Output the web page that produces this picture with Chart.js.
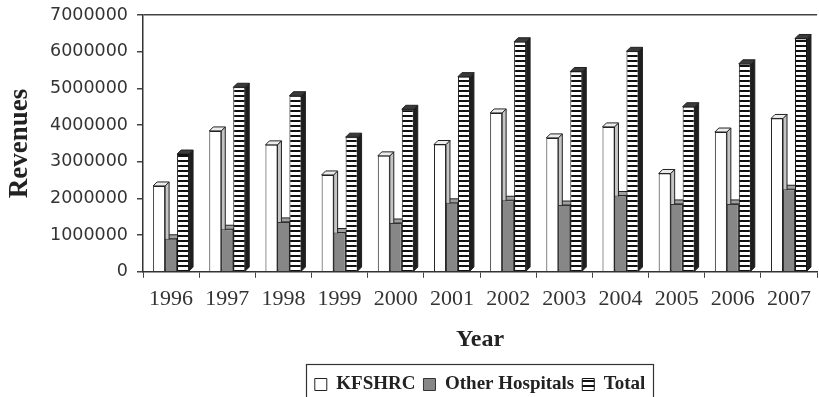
<!DOCTYPE html>
<html>
<head>
<meta charset="utf-8">
<script src="https://cdn.jsdelivr.net/npm/chart.js@4/dist/chart.umd.min.js"></script>
<style>
body{margin:0;background:#fff;}
</style>
</head>
<body>
<canvas id="myChart" width="819" height="397"></canvas>
<script>
var years=['1996','1997','1998','1999','2000','2001','2002','2003','2004','2005','2006','2007'];
var kfshrc=[2340000,3840000,3460000,2640000,3160000,3470000,4330000,3650000,3950000,2680000,3810000,4180000];
var otherHospitals=[900000,1160000,1360000,1070000,1330000,1880000,1950000,1820000,2080000,1850000,1850000,2250000];
var total=[3210000,5030000,4800000,3670000,4430000,5320000,6270000,5460000,6010000,4500000,5670000,6360000];
var yMax=7000000;
var yStep=1000000;

// horizontal stripes for the Total bars
function stripePattern(){
    var c=document.createElement('canvas');
    c.width=4;c.height=5;
    var g=c.getContext('2d');
    g.fillStyle='#fff';
    g.fillRect(0,0,4,5);
    g.fillStyle='#111';
    g.fillRect(0,0,4,2);
    return g.createPattern(c,'repeat');
}

var depth=4;
var sideColors=['#c4c4c4','#4d4d4d','#1e1e1e'];
var topColors=['#ececec','#a0a0a0','#3a3a3a'];

var bar3d={
    id:'bar3d',
    beforeDatasetsDraw:function(chart){
        var ctx=chart.ctx;
        for(var d=chart.data.datasets.length-1;d>=0;d--){
            var meta=chart.getDatasetMeta(d);
            for(var i=0;i<meta.data.length;i++){
                var b=meta.data[i];
                var l=b.x-b.width/2,r=b.x+b.width/2,t=b.y,bs=b.base;
                ctx.save();
                ctx.lineWidth=1;
                ctx.strokeStyle='#222';
                ctx.beginPath();
                ctx.moveTo(r,t);ctx.lineTo(r+depth,t-depth);ctx.lineTo(r+depth,bs-depth);ctx.lineTo(r,bs);
                ctx.closePath();
                ctx.fillStyle=sideColors[d];
                ctx.fill();ctx.stroke();
                ctx.beginPath();
                ctx.moveTo(l,t);ctx.lineTo(l+depth,t-depth);ctx.lineTo(r+depth,t-depth);ctx.lineTo(r,t);
                ctx.closePath();
                ctx.fillStyle=topColors[d];
                ctx.fill();ctx.stroke();
                ctx.restore();
            }
        }
    }
};

// push legend down a bit and frame it
var legendBox={
    id:'legendBox',
    afterLayout:function(chart){
        chart.legend.top+=7;
        chart.legend.bottom+=7;
    },
    afterDraw:function(chart){
        var boxes=chart.legend.legendHitBoxes;
        if(!boxes||!boxes.length)return;
        var l=9999,r=0,t=9999,bt=0;
        for(var i=0;i<boxes.length;i++){
            l=Math.min(l,boxes[i].left);
            r=Math.max(r,boxes[i].left+boxes[i].width);
            t=Math.min(t,boxes[i].top);
            bt=Math.max(bt,boxes[i].top+boxes[i].height);
        }
        var ctx=chart.ctx;
        ctx.save();
        ctx.strokeStyle='#333';
        ctx.lineWidth=1.2;
        ctx.strokeRect(Math.round(l-9)+0.5,Math.round(t-11)+0.5,Math.round(r-l+16),Math.round(bt-t+34));
        ctx.restore();
    }
};

var chartContainer=document.getElementById('myChart');
var myChart=new Chart(chartContainer,{
    type:'bar',
    data:{
        labels:years,
        datasets:[{
            label:'KFSHRC',
            data:kfshrc,
            backgroundColor:'#ffffff',
            borderColor:'#222',
            borderWidth:1
        },{
            label:'Other Hospitals',
            data:otherHospitals,
            backgroundColor:'#878787',
            borderColor:'#333',
            borderWidth:1
        },{
            label:'Total',
            data:total,
            backgroundColor:stripePattern(),
            borderColor:'#111',
            borderWidth:1
        }]
    },
    options:{
        responsive:false,
        animation:false,
        devicePixelRatio:1,
        layout:{padding:{top:15,right:0,left:0,bottom:0}},
        categoryPercentage:0.64,
        barPercentage:1,
        plugins:{
            legend:{
                position:'bottom',
                fullSize:false,
                labels:{
                    color:'#222',
                    font:{family:'Liberation Serif',size:19,weight:'bold'},
                    boxWidth:12,
                    boxHeight:12,
                    padding:8
                }
            },
            tooltip:{enabled:false}
        },
        scales:{
            x:{
                afterFit:function(scale){scale.height-=5;},
                grid:{color:'rgba(0,0,0,0)',tickColor:'#444',tickLength:6,offset:true},
                border:{display:true,color:'#333',width:1.5},
                ticks:{color:'#333',font:{family:'Liberation Serif',size:22},padding:8,maxRotation:0},
                title:{display:true,text:'Year',color:'#222',font:{family:'Liberation Serif',size:24,weight:'bold'},padding:{top:10,bottom:6}}
            },
            y:{
                min:0,
                max:yMax,
                afterFit:function(scale){scale.width=143;scale.paddingTop=0;},
                grid:{
                    color:function(c){return c.tick&&c.tick.value===yMax?'#444':'rgba(0,0,0,0)';},
                    tickColor:'#444',
                    tickLength:6,
                    lineWidth:1.5
                },
                border:{display:true,color:'#333',width:1.5},
                ticks:{
                    stepSize:yStep,
                    color:'#333',
                    font:{family:'DejaVu Sans',size:17.5},
                    padding:9,
                    callback:function(v){return String(v);}
                },
                title:{display:true,text:'Revenues',color:'#222',font:{family:'Liberation Serif',size:27,weight:'bold'},padding:{top:4,bottom:0}}
            }
        }
    },
    plugins:[bar3d,legendBox]
});
</script>
</body>
</html>
